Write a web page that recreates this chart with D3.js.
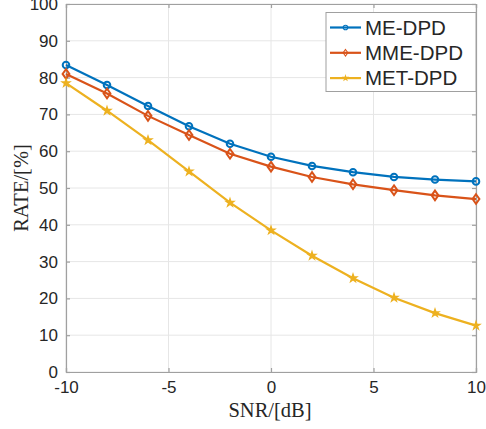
<!doctype html>
<html>
<head>
<meta charset="utf-8">
<style>
  body { margin: 0; background: #fff; }
  text { font-family: "Liberation Sans", Arial, sans-serif; fill: #262626; }
</style>
<script src="https://cdn.jsdelivr.net/npm/d3@7"></script>
</head>
<body>
<svg width="486" height="429"></svg>
<script>
var snr = [-10, -8, -6, -4, -2, 0, 2, 4, 6, 8, 10];
var meDpd = [83.4, 78, 72.3, 66.8, 62, 58.5, 56, 54.3, 53, 52.3, 51.8];
var mmeDpd = [81, 75.7, 69.6, 64.4, 59.3, 55.8, 53, 51, 49.4, 48, 47];
var metDpd = [78.5, 71, 63, 54.5, 46, 38.5, 31.6, 25.5, 20.2, 16, 12.6];
var seriesNames = ['ME-DPD', 'MME-DPD', 'MET-DPD'];
var xTicks = [-10, -5, 0, 5, 10];
var yTicks = [0, 10, 20, 30, 40, 50, 60, 70, 80, 90, 100];

var colors = ['#0072BD', '#D95319', '#EDB120'];
var markers = ['circle', 'diamond', 'star'];
var allSeries = [meDpd, mmeDpd, metDpd];

var pLeft = 66, pRight = 476, pTop = 4, pBottom = 372;
var svg = d3.select('svg');
var x = d3.scaleLinear().domain([-10, 10]).range([pLeft, pRight]);
var y = d3.scaleLinear().domain([0, 100]).range([pBottom, pTop]);
var fmt = function(d) { return String(d); };

// grid
svg.append('g').selectAll('line').data(xTicks).join('line')
  .attr('x1', d => x(d)).attr('x2', d => x(d))
  .attr('y1', pTop).attr('y2', pBottom)
  .attr('stroke', '#e6e6e6').attr('stroke-width', 1);
svg.append('g').selectAll('line').data(yTicks).join('line')
  .attr('x1', pLeft).attr('x2', pRight)
  .attr('y1', d => y(d)).attr('y2', d => y(d))
  .attr('stroke', '#e6e6e6').attr('stroke-width', 1);

// axes
var xAxis = svg.append('g').attr('transform', 'translate(0,' + pBottom + ')')
  .call(d3.axisBottom(x).tickValues(xTicks).tickSize(-4).tickPadding(9).tickFormat(fmt));
var yAxis = svg.append('g').attr('transform', 'translate(' + pLeft + ',0)')
  .call(d3.axisLeft(y).tickValues(yTicks).tickSize(-4).tickPadding(8).tickFormat(fmt));
var xTop = svg.append('g').attr('transform', 'translate(0,' + pTop + ')')
  .call(d3.axisTop(x).tickValues(xTicks).tickSize(-4).tickFormat(''));
var yRight = svg.append('g').attr('transform', 'translate(' + pRight + ',0)')
  .call(d3.axisRight(y).tickValues(yTicks).tickSize(-4).tickFormat(''));
[xAxis, yAxis, xTop, yRight].forEach(function(g) {
  g.selectAll('path, line').attr('stroke', '#a0a0a0').attr('stroke-width', 1.2);
  g.selectAll('text').style('font-size', '17px').attr('fill', '#222');
});

function markerPath(type) {
  if (type === 'circle') return d3.symbol(d3.symbolCircle, 34)();
  if (type === 'diamond') return 'M0,-4.8L3.4,0L0,4.8L-3.4,0Z';
  return d3.symbol(d3.symbolStar, 12)();
}

var line = d3.line().x((d, i) => x(snr[i])).y(d => y(d));

allSeries.forEach(function(vals, k) {
  svg.append('path').datum(vals)
    .attr('d', line).attr('fill', 'none')
    .attr('stroke', colors[k]).attr('stroke-width', 2.2);
  svg.append('g').selectAll('path').data(vals).join('path')
    .attr('transform', (d, i) => 'translate(' + x(snr[i]) + ',' + y(d) + ')')
    .attr('d', markerPath(markers[k]))
    .attr('fill', markers[k] === 'star' ? colors[k] : 'none')
    .attr('stroke', colors[k]).attr('stroke-width', markers[k] === 'star' ? 1.8 : 2);
});

// legend
var leg = svg.append('g');
leg.append('rect').attr('x', 326).attr('y', 12.5).attr('width', 150).attr('height', 79)
  .attr('fill', '#fff').attr('stroke', '#a0a0a0').attr('stroke-width', 1);
seriesNames.forEach(function(name, k) {
  var ly = 27.5 + k * 25.3;
  leg.append('line').attr('x1', 330).attr('x2', 361).attr('y1', ly).attr('y2', ly)
    .attr('stroke', colors[k]).attr('stroke-width', 2.2);
  leg.append('path')
    .attr('d', markerPath(markers[k]))
    .attr('fill', markers[k] === 'star' ? colors[k] : 'none')
    .attr('stroke', colors[k]).attr('stroke-width', 1.5)
    .attr('transform', 'translate(345.5,' + ly + ') scale(0.7)');
  leg.append('text').attr('x', 365).attr('y', ly + 7)
    .style('font-size', '20.5px').attr('fill', '#111').text(name);
});

// axis titles
svg.append('text').attr('x', 270).attr('y', 417)
  .attr('text-anchor', 'middle').attr('fill', '#111')
  .style('font-family', '"Liberation Serif", "Times New Roman", serif')
  .style('font-size', '20.5px').text('SNR/[dB]');
svg.append('text').attr('transform', 'translate(28,188) rotate(-90)')
  .attr('text-anchor', 'middle').attr('fill', '#111')
  .style('font-family', '"Liberation Serif", "Times New Roman", serif')
  .style('font-size', '20.5px').text('RATE/[%]');
</script>
</body>
</html>
